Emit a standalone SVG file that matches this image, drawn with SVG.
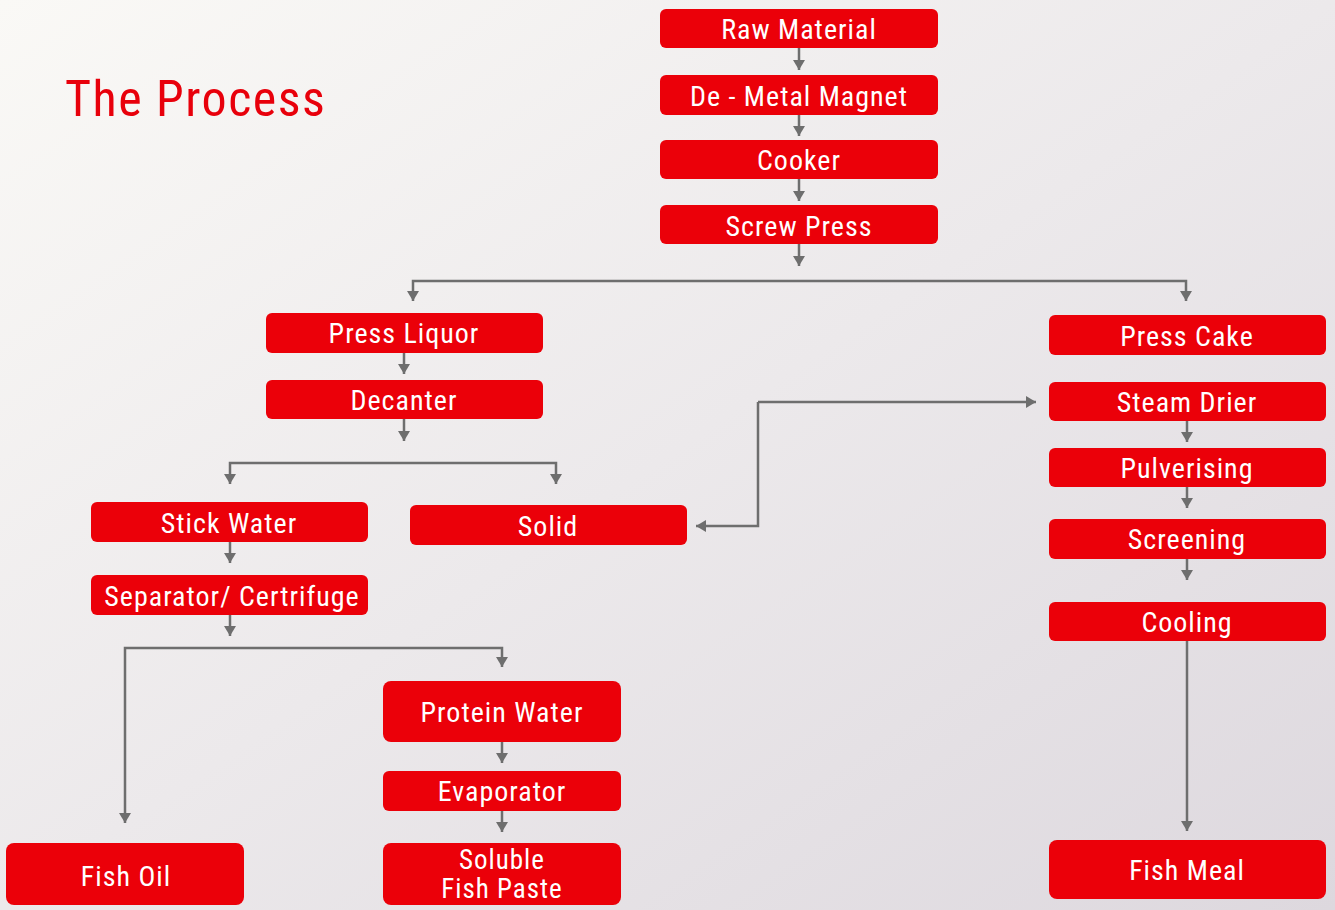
<svg xmlns="http://www.w3.org/2000/svg" width="1335" height="910" viewBox="0 0 1335 910">
<defs>
<linearGradient id="bg" x1="0" y1="0" x2="1" y2="1">
<stop offset="0" stop-color="#faf9f6"/>
<stop offset="0.5" stop-color="#ece9eb"/>
<stop offset="1" stop-color="#ddd8de"/>
</linearGradient>
<marker id="ah" markerUnits="userSpaceOnUse" markerWidth="12" markerHeight="14" viewBox="0 0 12 14" refX="10" refY="7" orient="auto">
<path d="M0,1 L10,7 L0,13 Z" fill="#6e6e6e"/>
</marker>
<style>
.box{fill:#eb0009}
.lbl{fill:#ffffff;font-family:"Liberation Sans Narrow","Roboto Condensed","Liberation Sans",sans-serif;font-stretch:condensed;font-size:28px;letter-spacing:1px;text-anchor:middle}
.sm{font-size:27px}
.c{fill:none;stroke:#6e6e6e;stroke-width:2.5;marker-end:url(#ah)}
.title{fill:#e8000b;font-family:"Liberation Sans Narrow","Roboto Condensed","Liberation Sans",sans-serif;font-stretch:condensed;font-size:50px;letter-spacing:1.5px}
</style>
</defs>
<rect width="1335" height="910" fill="url(#bg)"/>
<text class="title" x="65" y="116">The Process</text>
<g id="connectors">
<path class="c" d="M799,48 V70"/>
<path class="c" d="M799,115 V136"/>
<path class="c" d="M799,179 V201"/>
<path class="c" d="M799,244 V266"/>
<path class="c" d="M799,281 H413 V301"/>
<path class="c" d="M799,281 H1186 V301"/>
<path class="c" d="M404,353 V374"/>
<path class="c" d="M404,419 V441"/>
<path class="c" d="M404,463 H230 V484"/>
<path class="c" d="M404,463 H556 V484"/>
<path class="c" d="M230,542 V563"/>
<path class="c" d="M230,615 V636"/>
<path class="c" d="M230,648 H125 V823"/>
<path class="c" d="M230,648 H502 V667"/>
<path class="c" d="M502,742 V763"/>
<path class="c" d="M502,811 V832"/>
<path class="c" d="M758,402 V526 H696"/>
<path class="c" d="M758,402 H1036"/>
<path class="c" d="M1187,421 V442"/>
<path class="c" d="M1187,487 V508"/>
<path class="c" d="M1187,559 V580"/>
<path class="c" d="M1187,641 V831"/>
</g>
<g id="raw-material"><rect class="box" x="660" y="9" width="278" height="39" rx="6"/><text class="lbl" x="799" y="39">Raw Material</text></g>
<g id="de-metal-magnet"><rect class="box" x="660" y="75" width="278" height="40" rx="6"/><text class="lbl" x="799" y="106">De - Metal Magnet</text></g>
<g id="cooker"><rect class="box" x="660" y="140" width="278" height="39" rx="6"/><text class="lbl" x="799" y="170">Cooker</text></g>
<g id="screw-press"><rect class="box" x="660" y="205" width="278" height="39" rx="6"/><text class="lbl" x="799" y="236">Screw Press</text></g>
<g id="press-liquor"><rect class="box" x="266" y="313" width="277" height="40" rx="6"/><text class="lbl" x="404" y="343">Press Liquor</text></g>
<g id="decanter"><rect class="box" x="266" y="380" width="277" height="39" rx="6"/><text class="lbl" x="404" y="410">Decanter</text></g>
<g id="press-cake"><rect class="box" x="1049" y="315" width="277" height="40" rx="6"/><text class="lbl" x="1187" y="346">Press Cake</text></g>
<g id="steam-drier"><rect class="box" x="1049" y="382" width="277" height="39" rx="6"/><text class="lbl" x="1187" y="412">Steam Drier</text></g>
<g id="pulverising"><rect class="box" x="1049" y="448" width="277" height="39" rx="6"/><text class="lbl" x="1187" y="478">Pulverising</text></g>
<g id="screening"><rect class="box" x="1049" y="519" width="277" height="40" rx="6"/><text class="lbl" x="1187" y="549">Screening</text></g>
<g id="cooling"><rect class="box" x="1049" y="602" width="277" height="39" rx="6"/><text class="lbl" x="1187" y="632">Cooling</text></g>
<g id="stick-water"><rect class="box" x="91" y="502" width="277" height="40" rx="6"/><text class="lbl" x="229" y="533">Stick Water</text></g>
<g id="solid"><rect class="box" x="410" y="505" width="277" height="40" rx="6"/><text class="lbl" x="548" y="536">Solid</text></g>
<g id="separator"><rect class="box" x="91" y="575" width="277" height="40" rx="6"/><text class="lbl" x="232" y="606">Separator/ Certrifuge</text></g>
<g id="protein-water"><rect class="box" x="383" y="681" width="238" height="61" rx="8"/><text class="lbl" x="502" y="722">Protein Water</text></g>
<g id="evaporator"><rect class="box" x="383" y="771" width="238" height="40" rx="6"/><text class="lbl" x="502" y="801">Evaporator</text></g>
<g id="soluble-fish-paste"><rect class="box" x="383" y="843" width="238" height="62" rx="8"/><text class="lbl sm" x="502" y="869">Soluble</text><text class="lbl sm" x="502" y="898">Fish Paste</text></g>
<g id="fish-oil"><rect class="box" x="6" y="843" width="238" height="62" rx="8"/><text class="lbl" x="126" y="886">Fish Oil</text></g>
<g id="fish-meal"><rect class="box" x="1049" y="840" width="277" height="59" rx="8"/><text class="lbl" x="1187" y="880">Fish Meal</text></g>
</svg>
